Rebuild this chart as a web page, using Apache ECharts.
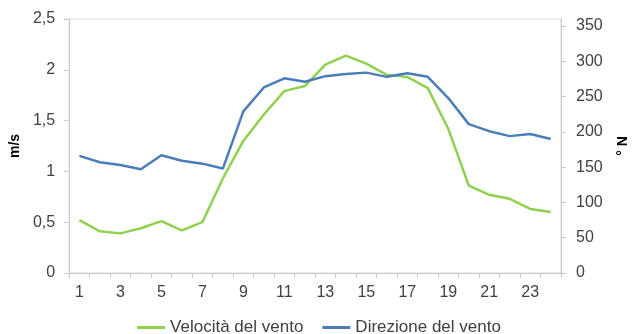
<!DOCTYPE html>
<html>
<head>
<meta charset="utf-8">
<script src="https://cdn.jsdelivr.net/npm/echarts@6/dist/echarts.min.js"></script>
<style>
  html, body { margin: 0; padding: 0; background: #fff; }
  #chart { width: 638px; height: 334px; }
</style>
</head>
<body>
<div id="chart"></div>
<script>
// Ore del giorno
const hours = ['1','2','3','4','5','6','7','8','9','10','11','12','13','14','15','16','17','18','19','20','21','22','23','24'];
// Velocità media del vento (m/s)
const windSpeed = [0.52, 0.41, 0.39, 0.44, 0.51, 0.42, 0.50, 0.93, 1.30, 1.56, 1.79, 1.84, 2.05, 2.14, 2.06, 1.95, 1.93, 1.82, 1.42, 0.86, 0.77, 0.73, 0.63, 0.60];
// Direzione media del vento (gradi da N)
const windDir = [166, 157, 153, 147, 167, 159, 155, 148, 229, 263, 276, 271, 279, 282, 284, 278, 283, 278, 248, 211, 201, 194, 197, 190];
// Valori delle tacche sull'asse secondario
const dirTicks = [0, 50, 100, 150, 200, 250, 300, 350];

const labelColor = '#404040';
const lineGray = '#c8c8c8';
const font = 'Liberation Sans, Arial, sans-serif';

const chart = echarts.init(document.getElementById('chart'), null, { renderer: 'canvas' });
chart.setOption({
  animation: false,
  backgroundColor: '#fff',
  grid: {
    left: 66, right: 63, top: 19, bottom: 61,
    show: true, borderColor: '#d9d9d9', borderWidth: 1, backgroundColor: 'transparent'
  },
  legend: {
    top: 314,
    left: 'center',
    itemWidth: 28,
    itemHeight: 3,
    itemGap: 19,
    icon: 'rect',
    textStyle: { color: labelColor, fontSize: 17, fontFamily: font },
    data: ['Velocità del vento', 'Direzione del vento']
  },
  xAxis: {
    type: 'category',
    data: hours,
    boundaryGap: true,
    axisLine: { lineStyle: { color: lineGray, width: 1 } },
    axisTick: { show: true, interval: 0, length: 5, lineStyle: { color: lineGray } },
    axisLabel: { interval: 1, color: labelColor, fontSize: 16, fontFamily: font, margin: 12 }
  },
  yAxis: [
    {
      type: 'value',
      min: 0, max: 2.5, interval: 0.5,
      name: 'm/s',
      nameLocation: 'middle',
      nameGap: 41,
      nameRotate: 90,
      nameTextStyle: { color: '#000', fontSize: 14, fontWeight: 'bold', fontFamily: font },
      axisLine: { show: true, lineStyle: { color: lineGray } },
      axisTick: { show: true, length: 5, lineStyle: { color: lineGray } },
      splitLine: { show: false },
      axisLabel: {
        color: labelColor, fontSize: 16, fontFamily: font, margin: 14,
        formatter: v => String(v).replace('.', ',')
      }
    },
    {
      type: 'value',
      min: 0, max: 360, interval: 50,
      position: 'right',
      name: '° N',
      nameLocation: 'middle',
      nameGap: 55,
      nameRotate: 90,
      nameTextStyle: { color: '#000', fontSize: 14, fontWeight: 'bold', fontFamily: font },
      axisLine: { show: true, lineStyle: { color: lineGray } },
      axisTick: { show: true, length: 5, customValues: dirTicks, lineStyle: { color: lineGray } },
      splitLine: { show: false },
      axisLabel: {
        color: labelColor, fontSize: 16, fontFamily: font, margin: 15,
        customValues: dirTicks
      }
    }
  ],
  series: [
    {
      name: 'Velocità del vento',
      type: 'line',
      yAxisIndex: 0,
      data: windSpeed,
      symbol: 'none',
      color: '#8fd14f',
      lineStyle: { width: 2.5, color: '#8fd14f' }
    },
    {
      name: 'Direzione del vento',
      type: 'line',
      yAxisIndex: 1,
      data: windDir,
      symbol: 'none',
      color: '#4a7ebb',
      lineStyle: { width: 2.5, color: '#4a7ebb' }
    }
  ]
});
</script>
</body>
</html>
